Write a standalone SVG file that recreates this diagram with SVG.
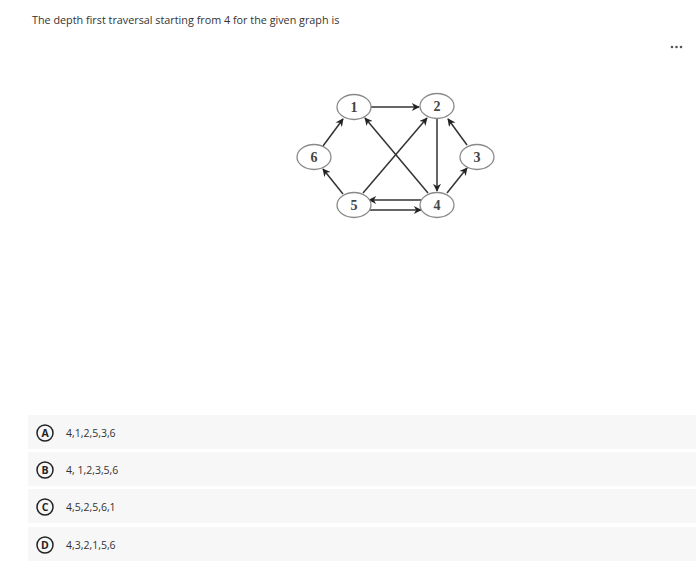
<svg xmlns="http://www.w3.org/2000/svg" width="700" height="586" viewBox="0 0 700 586">
<style>
.t{font-family:"Open Sans","Liberation Sans",sans-serif;fill:#333}
.opt{font-family:"Open Sans","Liberation Sans",sans-serif;font-size:10.5px;fill:#333}
.row{fill:#f7f7f7}
.badge{fill:none;stroke:#222;stroke-width:1.5}
.bl{font-family:"Open Sans","Liberation Sans",sans-serif;font-size:10.5px;font-weight:bold;fill:#222;text-anchor:middle}
.node ellipse{fill:#fff;stroke:#8a8a8a;stroke-width:1.3}
.node text{font-family:"Liberation Serif",serif;font-size:14px;font-weight:bold;fill:#444;text-anchor:middle}
.edge{stroke:#333;stroke-width:1.5;fill:none;marker-end:url(#ah)}
</style>
<defs>
<marker id="ah" viewBox="0 0 10 10" refX="9" refY="5" markerWidth="9" markerHeight="8" markerUnits="userSpaceOnUse" orient="auto">
<path d="M0,0 L10,5 L0,10 L3,5 z" fill="#222"/>
</marker>
</defs>
<rect width="700" height="586" fill="#fff"/>
<text class="t" x="32" y="24" font-size="10.8">The depth first traversal starting from 4 for the given graph is</text>
<g fill="#555"><circle cx="672" cy="47" r="1.3"/><circle cx="676.5" cy="47" r="1.3"/><circle cx="681" cy="47" r="1.3"/></g>

<g id="connectors">
<line class="edge" x1="371" y1="107" x2="419" y2="107"/>
<line class="edge" x1="437" y1="119" x2="437" y2="191"/>
<line class="edge" x1="467" y1="145" x2="448" y2="119"/>
<line class="edge" x1="447" y1="193" x2="467" y2="168"/>
<line class="edge" x1="428" y1="193" x2="365" y2="118"/>
<line class="edge" x1="363" y1="193" x2="427" y2="118"/>
<line class="edge" x1="343" y1="194" x2="323" y2="169"/>
<line class="edge" x1="323" y1="146" x2="343" y2="119"/>
<line class="edge" x1="421" y1="200" x2="369" y2="200"/>
<line class="edge" x1="369" y1="210" x2="421" y2="210"/>
</g>

<g id="n1" class="node"><ellipse cx="354" cy="107" rx="17" ry="12.5"/><text x="354" y="112">1</text></g>
<g id="n2" class="node"><ellipse cx="437" cy="106" rx="17" ry="12.5"/><text x="437" y="111">2</text></g>
<g id="n3" class="node"><ellipse cx="477" cy="157" rx="17" ry="12.5"/><text x="477" y="162">3</text></g>
<g id="n4" class="node"><ellipse cx="437" cy="205" rx="17" ry="12.5"/><text x="437" y="210">4</text></g>
<g id="n5" class="node"><ellipse cx="354" cy="205" rx="17" ry="12.5"/><text x="354" y="210">5</text></g>
<g id="n6" class="node"><ellipse cx="314" cy="157" rx="17" ry="12.5"/><text x="314" y="162">6</text></g>

<g id="optA"><rect class="row" x="28" y="415" width="668" height="34"/><circle class="badge" cx="45" cy="433" r="8"/><text class="bl" x="45" y="436.7">A</text><text class="opt" x="66" y="437">4,1,2,5,3,6</text></g>
<g id="optB"><rect class="row" x="28" y="452" width="668" height="34"/><circle class="badge" cx="45" cy="470" r="8"/><text class="bl" x="45" y="473.7">B</text><text class="opt" x="66" y="474">4, 1,2,3,5,6</text></g>
<g id="optC"><rect class="row" x="28" y="489" width="668" height="34"/><circle class="badge" cx="45" cy="507" r="8"/><text class="bl" x="45" y="510.7">C</text><text class="opt" x="66" y="511">4,5,2,5,6,1</text></g>
<g id="optD"><rect class="row" x="28" y="527" width="668" height="34"/><circle class="badge" cx="45" cy="545" r="8"/><text class="bl" x="45" y="548.7">D</text><text class="opt" x="66" y="549">4,3,2,1,5,6</text></g>
</svg>
